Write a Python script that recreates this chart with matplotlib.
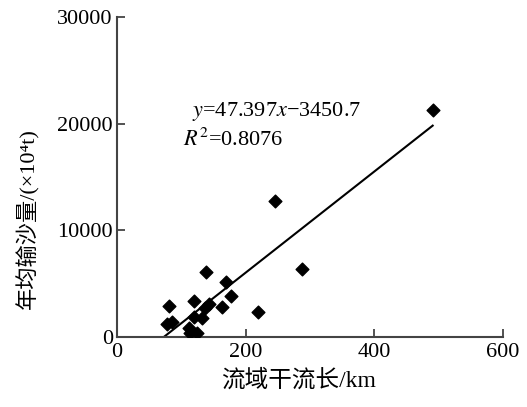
import numpy as np
import matplotlib.pyplot as plt

plt.rcParams['font.family'] = ['Liberation Serif', 'Noto Sans CJK SC']
plt.rcParams['mathtext.fontset'] = 'stix'

# main stream length (km) and mean annual sediment load (10^4 t)
length_km = [77, 85, 81, 112, 113, 124, 120, 120, 132, 138, 143, 137,
             164, 169, 178, 220, 245, 287, 491]
sediment = [1250, 1380, 2900, 800, 350, 400, 1850, 3400, 1750, 6050, 3100, 2700,
            2800, 5150, 3850, 2300, 12750, 6400, 21300]

slope, intercept = 47.397, -3450.7
r2 = 0.8076

fig = plt.figure(figsize=(5.27, 4.07), dpi=100)
ax = fig.add_axes([0.222, 0.172, 0.732, 0.786])

ax.scatter(length_km, sediment, marker='D', s=42, color='black', zorder=3)

fit_x = np.array([-intercept / slope, max(length_km)])
ax.plot(fit_x, slope * fit_x + intercept, color='black', lw=1.5)

ax.text(117, 20700, r'$y$=47.397$x$−3450.7', fontsize=16)
ax.text(103, 17900, r'$R^2$=0.8076', fontsize=16)

ax.set_xlim(0, 600)
ax.set_ylim(0, 30000)
ax.set_xticks([0, 200, 400, 600])
ax.set_yticks([0, 10000, 20000, 30000])
for side in ['top', 'right']:
    ax.spines[side].set_visible(False)
for side in ['left', 'bottom']:
    ax.spines[side].set_color('#444444')
    ax.spines[side].set_linewidth(1.5)
ax.tick_params(direction='in', length=6, width=1.3, color='#444444',
               labelsize=16)
ax.tick_params(axis='x', pad=4)
ax.tick_params(axis='y', pad=3)

ax.set_xlabel('流域干流长/km', fontsize=17)
ax.set_ylabel('年均输沙量/(×10⁴t)', fontsize=16)
ax.xaxis.set_label_coords(0.47, -0.1)
ax.yaxis.set_label_coords(-0.2, 0.37)

fig.savefig('out.png', dpi=100)
